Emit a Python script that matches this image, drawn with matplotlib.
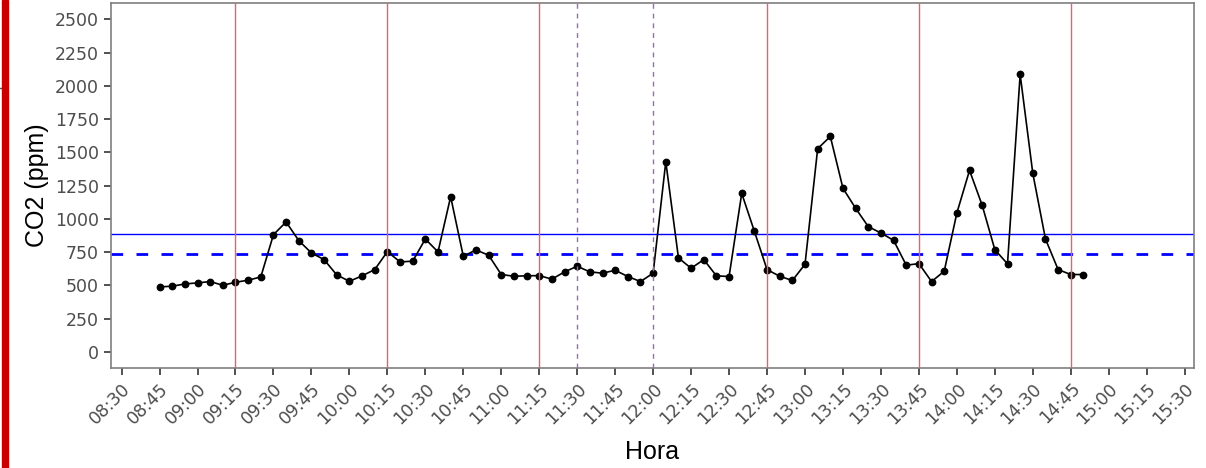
import matplotlib
matplotlib.use('Agg')
import matplotlib.pyplot as plt
import matplotlib.dates as mdates
import pandas as pd

# Hora de cada medida (cada 5 minutos)
horas = [
    '08:45', '08:50', '08:55', '09:00', '09:05', '09:10', '09:15', '09:20', '09:25',
    '09:30', '09:35', '09:40', '09:45', '09:50', '09:55', '10:00', '10:05', '10:10',
    '10:15', '10:20', '10:25', '10:30', '10:35', '10:40', '10:45', '10:50', '10:55',
    '11:00', '11:05', '11:10', '11:15', '11:20', '11:25', '11:30', '11:35', '11:40',
    '11:45', '11:50', '11:55', '12:00', '12:05', '12:10', '12:15', '12:20', '12:25',
    '12:30', '12:35', '12:40', '12:45', '12:50', '12:55', '13:00', '13:05', '13:10',
    '13:15', '13:20', '13:25', '13:30', '13:35', '13:40', '13:45', '13:50', '13:55',
    '14:00', '14:05', '14:10', '14:15', '14:20', '14:25', '14:30', '14:35', '14:40',
    '14:45', '14:50',
]
co2 = [
    488, 493, 510, 518, 528, 500, 523, 538, 563,
    881, 976, 836, 743, 693, 578, 530, 571, 618,
    753, 676, 681, 848, 751, 1166, 718, 766, 726,
    581, 568, 571, 573, 546, 601, 643, 601, 591,
    613, 566, 528, 591, 1429, 706, 628, 693, 571,
    566, 1191, 906, 618, 568, 536, 658, 1527, 1619,
    1229, 1079, 941, 893, 838, 651, 663, 528, 606,
    1044, 1364, 1101, 768, 661, 2085, 1341, 848, 618,
    581, 581,
]

limite_alto = 885
limite_medio = 737

lineas_rojas = ['09:15', '10:15', '11:15', '12:45', '13:45', '14:45']
lineas_moradas = ['11:30', '12:00']

ticks_x = ['08:30', '08:45', '09:00', '09:15', '09:30', '09:45', '10:00', '10:15',
           '10:30', '10:45', '11:00', '11:15', '11:30', '11:45', '12:00', '12:15',
           '12:30', '12:45', '13:00', '13:15', '13:30', '13:45', '14:00', '14:15',
           '14:30', '14:45', '15:00', '15:15', '15:30']
ticks_y = [0, 250, 500, 750, 1000, 1250, 1500, 1750, 2000, 2250, 2500]


def t(h):
    return pd.Timestamp('2023-01-01 ' + h)


x = [t(h) for h in horas]

fig = plt.figure(figsize=(12.06, 4.68), dpi=100)
ax = fig.add_axes([0.0918, 0.2128, 0.8985, 0.7815])

ax.axhline(limite_alto, color='#0000FF', lw=1.0, zorder=2)
ax.axhline(limite_medio, color='#0000FF', lw=2.0, ls=(0, (4.2, 4.8)), zorder=2)

ax.plot(x, co2, color='black', lw=1.2, marker='o', ms=4.6, zorder=3)

for h in lineas_rojas:
    ax.axvline(t(h), color='#E8606E', lw=1.0, zorder=4)
for h in lineas_moradas:
    ax.axvline(t(h), color='#9B6BB0', lw=1.0, ls=(0, (3.5, 3.5)), zorder=4)

ax.set_xlim(t('08:30') - pd.Timedelta(minutes=4.3), t('15:30') + pd.Timedelta(minutes=3.8))
ax.set_ylim(-125, 2625)
ax.set_xticks([t(h) for h in ticks_x])
ax.xaxis.set_major_formatter(mdates.DateFormatter('%H:%M'))
ax.set_yticks(ticks_y)

for lab in ax.get_xticklabels():
    lab.set_rotation(45)
    lab.set_ha('right')
    lab.set_va('top')
    lab.set_rotation_mode('anchor')

ax.tick_params(axis='both', direction='out', length=5, width=1.2, color='#333333',
               labelcolor='#4D4D4D', labelsize=12.5)
ax.tick_params(axis='x', pad=3)
for lab in ax.get_xticklabels() + ax.get_yticklabels():
    lab.set_family('DejaVu Sans')

for s in ax.spines.values():
    s.set_color('#7F7F7F')
    s.set_linewidth(1.2)

ax.set_xlabel('Hora', family='Liberation Sans', fontsize=18, labelpad=9)
ax.set_ylabel('CO2 (ppm)', family='Liberation Sans', fontsize=18, labelpad=4)

# franja roja del borde izquierdo
fig.patches.append(plt.Rectangle((2 / 1206, 0), 5.5 / 1206, 1, transform=fig.transFigure,
                                 color='#C80000', zorder=10))
fig.lines.append(plt.Line2D([0, 2.5 / 1206], [1 - 88 / 468] * 2, transform=fig.transFigure,
                            color='#555555', lw=1))

fig.savefig('out.png', dpi=100)
